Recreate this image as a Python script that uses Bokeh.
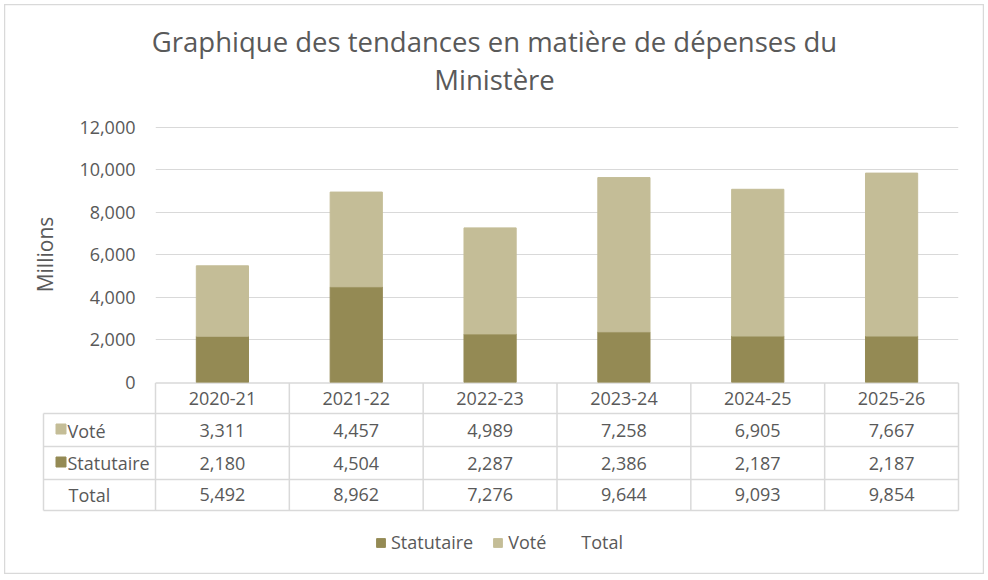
from bokeh.plotting import figure
from bokeh.models import (FactorRange, Range1d, FixedTicker, NumeralTickFormatter,
                          Legend, LegendItem, ColumnDataSource)
from bokeh.embed import file_html
from bokeh.resources import INLINE
from bokeh.core.properties import value

# ---------------- data ----------------
years = ["2020-21", "2021-22", "2022-23", "2023-24", "2024-25", "2025-26"]
vote = [3311, 4457, 4989, 7258, 6905, 7667]
statutaire = [2180, 4504, 2287, 2386, 2187, 2187]
total = [5492, 8962, 7276, 9644, 9093, 9854]
y_ticks = [0, 2000, 4000, 6000, 8000, 10000, 12000]
row_labels = ["Voté", "Statutaire", "Total"]
title_lines = ["Graphique des tendances en matière de dépenses du", "Ministère"]

# ---------------- style ----------------
C_STAT = "#948A54"
C_VOTE = "#C4BD97"
TXT = "#595959"
GRID = "#D9D9D9"
FONT = "Open Sans"

# page geometry (px)
BX0, BY0, BX1, BY1 = 4, 4, 984, 574      # outer chart box
FL, FR, FT, FB = 155, 958, 126, 382      # plot area
NC = len(years)
CW = (FR - FL) / NC

# ---------------- background figure: title, data table, legend ----------------
pB = figure(width=BX1 - BX0, height=BY1 - BY0,
            x_range=Range1d(BX0, BX1), y_range=Range1d(BY1, BY0),
            x_axis_type=None, y_axis_type=None, min_border=0,
            output_backend="svg", toolbar_location=None,
            outline_line_color=GRID, outline_line_width=1.5,
            background_fill_color="white", border_fill_color="white",
            styles={"position": "absolute", "left": f"{BX0}px", "top": f"{BY0}px"})
pB.grid.visible = False

# title
pB.text(x=[494, 494], y=[41, 79], text=title_lines, text_align="center",
        text_baseline="middle", text_font=value(FONT), text_font_size="27.5px",
        text_color=TXT)

# table grid
edges = [FL + k * CW for k in range(NC + 1)]
rows_y = [382.5, 413, 446, 479, 510]
TL = 43
x0, y0, x1, y1 = [], [], [], []
x0.append(FL); x1.append(FR); y0.append(rows_y[0]); y1.append(rows_y[0])
for ry in rows_y[1:]:
    x0.append(TL); x1.append(FR); y0.append(ry); y1.append(ry)
for e in edges:
    x0.append(e); x1.append(e); y0.append(rows_y[0]); y1.append(rows_y[-1])
x0.append(TL); x1.append(TL); y0.append(rows_y[1]); y1.append(rows_y[-1])
pB.segment(x0=x0, y0=y0, x1=x1, y1=y1, line_color=GRID, line_width=1.5)

centers = [FL + (i + 0.5) * CW for i in range(NC)]
row_cy = [398, 430, 462.5, 494]

txt_kw = dict(text_font=value(FONT), text_font_size="18px", text_color=TXT,
              text_baseline="middle")
pB.text(x=centers, y=[row_cy[0]] * NC, text=years, text_align="center", **txt_kw)
for r, vals in enumerate([vote, statutaire, total]):
    pB.text(x=centers, y=[row_cy[r + 1]] * NC, text=[f"{v:,}" for v in vals],
            text_align="center", **txt_kw)

# row labels with swatches
sw_v = pB.rect(x=[60.5], y=[428.5], width=10, height=10, color=C_VOTE)
sw_s = pB.rect(x=[60.5], y=[461.5], width=10, height=10, color=C_STAT)
pB.text(x=[67, 67, 68], y=row_cy[1:], text=row_labels, text_align="left", **txt_kw)

# legend
r_t = pB.line(x=[], y=[], line_alpha=0)
legend = Legend(items=[LegendItem(label="Statutaire", renderers=[sw_s]),
                       LegendItem(label="Voté", renderers=[sw_v]),
                       LegendItem(label="Total", renderers=[r_t])],
                orientation="horizontal", location=(375 - BX0, 20),
                glyph_width=11, glyph_height=11, label_standoff=5, spacing=19,
                padding=0, margin=0, border_line_color=None, background_fill_alpha=0,
                label_text_font=FONT, label_text_font_size="18px", label_text_color=TXT)
pB.add_layout(legend)

# ---------------- bar figure (overlaid, transparent) ----------------
src = ColumnDataSource(dict(years=years, vote=vote, statutaire=statutaire, total=total))
AX, AY = 5, 5
MB_L, MB_R, MB_T, MB_B = FL - AX, 5, FT - AY, 14
pA = figure(x_range=FactorRange(*years), y_range=Range1d(0, 12047),
            width=MB_L + (FR - FL) + MB_R, height=MB_T + (FB - FT) + MB_B,
            title=None, output_backend="svg", toolbar_location=None,
            min_border_left=MB_L, min_border_right=MB_R, min_border_top=MB_T,
            min_border_bottom=MB_B, outline_line_color=None,
            background_fill_alpha=0, border_fill_alpha=0,
            styles={"position": "absolute", "left": f"{AX}px", "top": f"{AY}px"})

pA.vbar_stack(["statutaire", "vote"], x="years", width=0.39, source=src,
              color=[C_STAT, C_VOTE])

pA.xaxis.visible = False
pA.xgrid.visible = False
pA.ygrid.grid_line_color = GRID
pA.ygrid.grid_line_width = 1

ya = pA.yaxis[0]
ya.ticker = FixedTicker(ticks=y_ticks)
ya.formatter = NumeralTickFormatter(format="0,0")
ya.axis_line_color = None
ya.major_tick_line_color = None
ya.minor_tick_line_color = None
ya.major_label_text_font = FONT
ya.major_label_text_font_size = "18px"
ya.major_label_text_color = TXT
ya.major_label_standoff = 14
ya.axis_label = "Millions"
ya.axis_label_text_font = FONT
ya.axis_label_text_font_size = "21px"
ya.axis_label_text_font_style = "normal"
ya.axis_label_text_color = TXT
ya.axis_label_standoff = 17

open("out.html", "w").write(file_html([pB, pA], INLINE))
